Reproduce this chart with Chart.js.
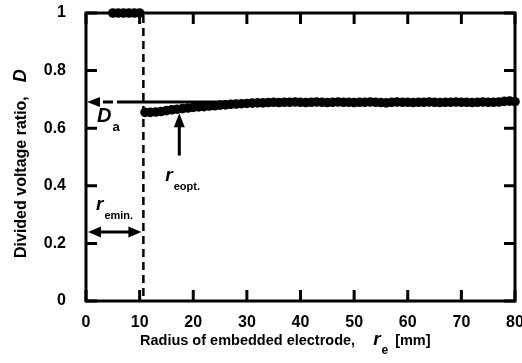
<!DOCTYPE html>
<html lang="en">
<head>
    <meta charset="UTF-8">
    <title>Divided voltage ratio</title>
    <style>
        html, body { margin: 0; padding: 0; background: #fff; }
        #wrap { width: 522px; height: 363px; }
    </style>
</head>
<body>
    <div id="wrap"><canvas id="chart"></canvas></div>

    <script src="https://cdn.jsdelivr.net/npm/chart.js"></script>
    <script>
        // Data
        const rUpper = [5, 6, 7, 8, 9, 10];
        const dUpper = [1, 1, 1, 1, 1, 1];

        const rLower = [11, 12, 13, 14, 15, 16, 17, 18, 19, 20,
                        21, 22, 23, 24, 25, 26, 27, 28, 29, 30,
                        31, 32, 33, 34, 35, 36, 37, 38, 39, 40,
                        41, 42, 43, 44, 45, 46, 47, 48, 49, 50,
                        51, 52, 53, 54, 55, 56, 57, 58, 59, 60,
                        61, 62, 63, 64, 65, 66, 67, 68, 69, 70,
                        71, 72, 73, 74, 75, 76, 77, 78, 79, 80];
        const dLower = [0.655, 0.655, 0.656, 0.658, 0.661, 0.664, 0.666, 0.668, 0.670, 0.672,
                        0.674, 0.675, 0.677, 0.678, 0.680, 0.681, 0.683, 0.684, 0.685, 0.686,
                        0.687, 0.688, 0.688, 0.689, 0.690, 0.689, 0.690, 0.690, 0.691, 0.690,
                        0.689, 0.690, 0.691, 0.690, 0.689, 0.690, 0.691, 0.690, 0.690, 0.689,
                        0.690, 0.690, 0.691, 0.690, 0.689, 0.688, 0.690, 0.691, 0.690, 0.690,
                        0.689, 0.690, 0.690, 0.691, 0.690, 0.689, 0.690, 0.690, 0.691, 0.690,
                        0.690, 0.689, 0.690, 0.691, 0.690, 0.690, 0.691, 0.693, 0.694, 0.692];

        const xTicks = [0, 10, 20, 30, 40, 50, 60, 70, 80];
        const yTicks = [0, 0.2, 0.4, 0.6, 0.8, 1];

        // annotation anchors (data units)
        const rEmin = 10.7;
        const dA = 0.691;
        const rEopt = 17.4;

        const FONT = '"Liberation Sans", Arial, sans-serif';

        function toXY(r, d) {
            return r.map((v, i) => ({ x: v, y: d[i] }));
        }

        // italic symbol followed by a subscript
        function subText(ctx, x, y, main, sub, size, subSize) {
            ctx.font = 'italic bold ' + size + 'px ' + FONT;
            ctx.textAlign = 'left';
            ctx.textBaseline = 'alphabetic';
            ctx.fillText(main, x, y);
            const w = ctx.measureText(main).width;
            ctx.font = 'bold ' + (subSize || Math.round(size * 0.7)) + 'px ' + FONT;
            ctx.fillText(sub, x + w + 1, y + size * 0.45);
        }

        function arrowHead(ctx, x, y, dir, len, half) {
            ctx.beginPath();
            ctx.moveTo(x, y);
            ctx.lineTo(x - len * Math.cos(dir) + half * Math.sin(dir), y - len * Math.sin(dir) - half * Math.cos(dir));
            ctx.lineTo(x - len * Math.cos(dir) - half * Math.sin(dir), y - len * Math.sin(dir) + half * Math.cos(dir));
            ctx.closePath();
            ctx.fill();
        }

        const decorations = {
            id: 'decorations',
            afterDatasetsDraw(chart) {
                const ctx = chart.ctx;
                const a = chart.chartArea;
                const xs = chart.scales.x, ys = chart.scales.y;
                ctx.save();
                ctx.strokeStyle = '#000';
                ctx.fillStyle = '#000';

                // dashed line at r_emin
                ctx.lineWidth = 2.5;
                ctx.setLineDash([8, 5]);
                ctx.beginPath();
                ctx.moveTo(xs.getPixelForValue(rEmin), a.top + 2);
                ctx.lineTo(xs.getPixelForValue(rEmin), a.bottom);
                ctx.stroke();
                ctx.setLineDash([]);

                // D_a arrow
                const yA = ys.getPixelForValue(dA);
                ctx.lineWidth = 3;
                ctx.beginPath();
                ctx.moveTo(a.left + 17, yA);
                ctx.lineTo(a.left + 27, yA);
                ctx.moveTo(a.left + 31, yA);
                ctx.lineTo(xs.getPixelForValue(32), yA);
                ctx.stroke();
                arrowHead(ctx, a.left + 1, yA, Math.PI, 13, 5);
                subText(ctx, a.left + 11, ys.getPixelForValue(0.62), 'D', 'a', 20, 13);

                // r_eopt arrow
                const xO = xs.getPixelForValue(rEopt);
                ctx.beginPath();
                ctx.moveTo(xO, ys.getPixelForValue(0.505));
                ctx.lineTo(xO, ys.getPixelForValue(0.62));
                ctx.stroke();
                arrowHead(ctx, xO, ys.getPixelForValue(0.652), -Math.PI / 2, 14, 5.5);
                subText(ctx, xO - 14, ys.getPixelForValue(0.415), 'r', 'eopt.', 19, 11);

                // r_emin double arrow
                const yM = ys.getPixelForValue(0.24);
                const xM = xs.getPixelForValue(rEmin);
                ctx.beginPath();
                ctx.moveTo(a.left + 10, yM);
                ctx.lineTo(xM - 10, yM);
                ctx.stroke();
                arrowHead(ctx, a.left + 2, yM, Math.PI, 13, 5.5);
                arrowHead(ctx, xM - 2, yM, 0, 13, 5.5);
                subText(ctx, a.left + 10, ys.getPixelForValue(0.315), 'r', 'emin.', 19, 11);

                // frame
                ctx.lineWidth = 3;
                ctx.strokeRect(a.left, a.top, a.right - a.left, a.bottom - a.top);

                // inward ticks on all sides
                const tl = 11;
                xTicks.forEach(v => {
                    const px = xs.getPixelForValue(v);
                    ctx.beginPath();
                    ctx.moveTo(px, a.bottom); ctx.lineTo(px, a.bottom - tl);
                    ctx.moveTo(px, a.top); ctx.lineTo(px, a.top + tl);
                    ctx.stroke();
                });
                yTicks.forEach(v => {
                    const py = ys.getPixelForValue(v);
                    ctx.beginPath();
                    ctx.moveTo(a.left, py); ctx.lineTo(a.left + tl, py);
                    ctx.moveTo(a.right, py); ctx.lineTo(a.right - tl, py);
                    ctx.stroke();
                });

                // axis titles
                ctx.font = 'bold 14.5px ' + FONT;
                ctx.textBaseline = 'alphabetic';
                ctx.textAlign = 'left';
                const xt = 'Radius of embedded electrode,';
                const xtx = 140, xty = 345;
                ctx.fillText(xt, xtx, xty);
                const w1 = ctx.measureText(xt).width;
                subText(ctx, xtx + w1 + 18, xty, 'r', 'e', 19, 12);
                ctx.font = 'bold 14.5px ' + FONT;
                ctx.fillText('[mm]', xtx + w1 + 40, xty);

                ctx.translate(26, 258);
                ctx.rotate(-Math.PI / 2);
                ctx.font = 'bold 16px ' + FONT;
                const yt = 'Divided voltage ratio,';
                ctx.fillText(yt, 0, 0);
                const w2 = ctx.measureText(yt).width;
                ctx.font = 'italic bold 18px ' + FONT;
                ctx.fillText('D', w2 + 14, 0);
                ctx.restore();
            }
        };

        const tickFont = { family: FONT, size: 16, weight: 'bold' };

        new Chart(document.getElementById('chart'), {
            type: 'scatter',
            data: {
                datasets: [
                    { data: toXY(rUpper, dUpper), backgroundColor: '#000', borderColor: '#000', pointRadius: 4.8, pointBorderWidth: 0, clip: false },
                    { data: toXY(rLower, dLower), backgroundColor: '#000', borderColor: '#000', pointRadius: 4.8, pointBorderWidth: 0, clip: false }
                ]
            },
            options: {
                responsive: true,
                maintainAspectRatio: false,
                animation: false,
                layout: { padding: { top: 13, right: 7, left: 0, bottom: 0 } },
                plugins: { legend: { display: false }, tooltip: { enabled: false } },
                scales: {
                    x: {
                        type: 'linear', min: 0, max: 80,
                        afterBuildTicks: s => { s.ticks = xTicks.map(v => ({ value: v })); },
                        ticks: { color: '#000', font: tickFont, padding: 4, maxRotation: 0 },
                        grid: { display: false },
                        border: { display: false },
                        afterFit: s => { s.height = 62; s.paddingRight = 7; s.paddingLeft = 0; }
                    },
                    y: {
                        type: 'linear', min: 0, max: 1,
                        afterBuildTicks: s => { s.ticks = yTicks.map(v => ({ value: v })); },
                        ticks: {
                            color: '#000', font: tickFont, padding: 12,
                            callback: v => (v === 0 || v === 1) ? String(v) : v.toFixed(1)
                        },
                        grid: { display: false },
                        border: { display: false },
                        afterFit: s => { s.width = 86; s.paddingTop = 0; s.paddingBottom = 0; }
                    }
                }
            },
            plugins: [decorations]
        });
    </script>
</body>
</html>
